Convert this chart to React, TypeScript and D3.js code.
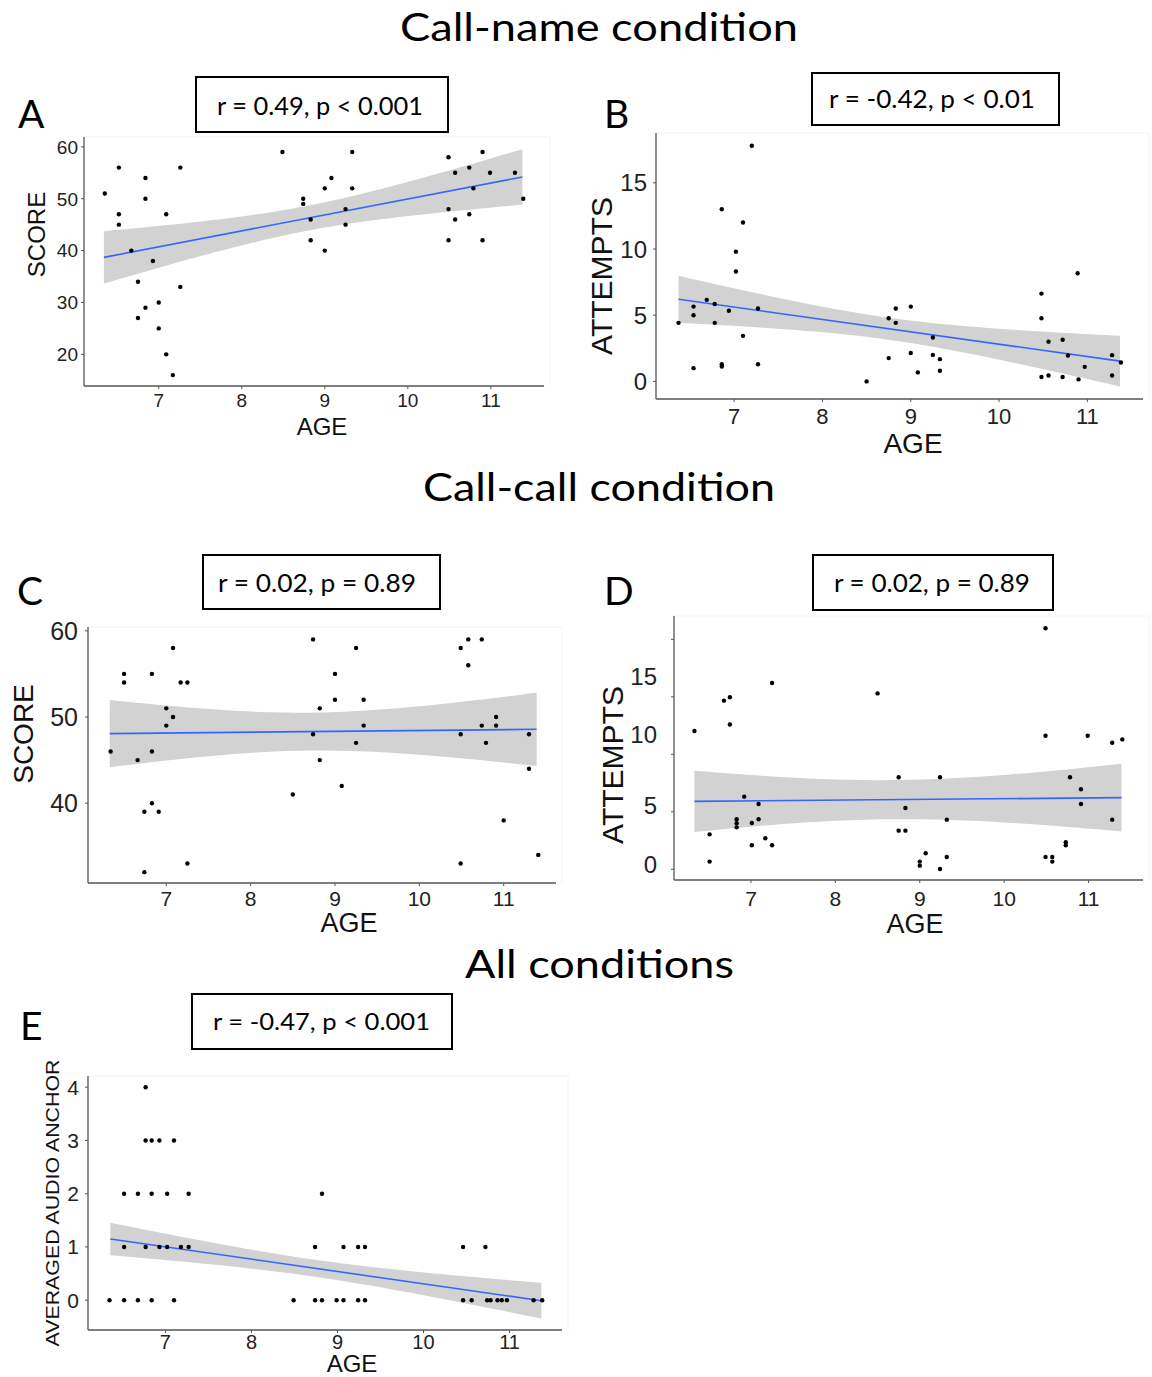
import React from "react";
import * as d3 from "d3";

// ---------- DATA ----------
const ageA = [6.35,6.52,6.52,6.52,6.67,6.75,6.75,6.84,6.84,6.84,6.93,7.0,7.0,7.09,7.09,7.17,7.26,7.26,8.49,8.74,8.74,8.83,8.83,9.0,9.0,9.08,9.25,9.25,9.33,9.33,10.49,10.49,10.49,10.57,10.57,10.74,10.74,10.79,10.9,10.9,10.99,11.29,11.39];
const scoreA = [51,56,47,45,40,34,27,54,50,29,38,30,25,47,20,16,56,33,59,50,49,46,42,52,40,54,48,45,59,52,58,48,42,55,46,56,47,52,59,42,55,55,50];

const ageB = [6.37,6.54,6.54,6.54,6.69,6.78,6.78,6.86,6.86,6.86,6.94,7.02,7.02,7.10,7.10,7.20,7.27,7.27,8.5,8.75,8.75,8.83,8.83,9.0,9.0,9.08,9.25,9.25,9.33,9.33,10.48,10.48,10.48,10.56,10.56,10.72,10.72,10.78,10.89,10.90,10.97,11.28,11.28,11.38];
const attemptsB = [4.42,5.65,5.0,1.0,6.16,5.85,4.42,13.0,1.3,1.13,5.33,9.8,8.3,12.0,3.44,17.8,5.5,1.3,0,4.77,1.76,5.5,4.42,5.65,2.14,0.68,3.32,2.0,1.68,0.8,6.63,4.77,0.33,3.0,0.45,3.14,0.33,1.96,8.17,0.15,1.1,1.98,0.45,1.43];

const ageC = [6.34,6.50,6.50,6.66,6.74,6.74,6.83,6.83,6.83,6.91,7.0,7.0,7.08,7.08,7.17,7.25,7.25,8.5,8.74,8.74,8.82,8.82,9.0,9.0,9.08,9.25,9.25,9.34,9.34,10.49,10.49,10.49,10.58,10.58,10.74,10.74,10.79,10.91,10.91,11.0,11.30,11.30,11.41];
const scoreC = [46,55,54,45,39,32,55,46,40,39,51,49,58,50,54,54,33,41,59,48,51,45,55,52,42,58,47,52,49,58,48,33,59,56,59,49,47,50,49,38,48,44,34];

const ageD = [6.33,6.51,6.51,6.68,6.75,6.75,6.83,6.83,6.83,6.92,7.01,7.01,7.09,7.09,7.17,7.25,7.25,8.50,8.75,8.75,8.83,8.83,9.0,9.0,9.07,9.24,9.24,9.32,9.32,10.49,10.49,10.49,10.57,10.57,10.73,10.73,10.78,10.91,10.91,10.99,11.28,11.28,11.40];
const attemptsD = [12.03,3.04,0.67,14.67,14.96,12.6,4.35,4.0,3.65,6.32,4.03,2.09,5.68,4.35,2.7,16.2,2.09,15.3,8.0,3.36,5.33,3.36,0.67,0.32,1.39,8.0,0.03,4.32,1.07,20.96,11.62,1.07,1.07,0.67,2.35,2.09,8.0,6.96,5.68,11.62,11.01,4.32,11.3];

const ageE = [6.77, 6.77,6.84,6.93,7.10, 6.52,6.68,6.84,7.02,7.27,8.82, 6.52,6.77,6.93,7.02,7.18,7.27,8.74,9.07,9.24,9.32,10.46,10.72, 6.35,6.52,6.68,6.84,7.10,8.49,8.74,8.82,8.99,9.07,9.24,9.32,10.46,10.56,10.74,10.78,10.86,10.91,10.97,11.28,11.38];
const anchorE = [4, 3,3,3,3, 2,2,2,2,2,2, 1,1,1,1,1,1,1,1,1,1,1,1, 0,0,0,0,0,0,0,0,0,0,0,0,0,0,0,0,0,0,0,0,0];

// fitted smooth: x range, y at ends, CI half-width [left, min, right]
const fitA = { x: [6.34, 11.38], y: [38.7, 54.2], hw: [5.05, 2.4, 5.35] };
const fitB = { x: [6.37, 11.37], y: [6.2, 1.53], hw: [1.77, 0.83, 1.91] };
const fitC = { x: [6.33, 11.39], y: [48.07, 48.57], hw: [3.9, 2.2, 4.25] };
const fitD = { x: [6.33, 11.39], y: [5.91, 6.23], hw: [2.67, 1.7, 2.94] };
const fitE = { x: [6.36, 11.37], y: [1.15, -0.01], hw: [0.305, 0.16, 0.335] };

const xTicks = [7, 8, 9, 10, 11];
const yTicksA = [20, 30, 40, 50, 60];
const yTicksB = [0, 5, 10, 15];
const yTicksC = [40, 50, 60];
const yTicksD = [0, 5, 10, 15, 20];
const yLabelsD = ["0", "5", "10", "15"];
const yLabelPosD = [0.4, 5.6, 11.7, 16.8];
const yTicksE = [0, 1, 2, 3, 4];

const statA = "r = 0.49, p < 0.001";
const statB = "r = -0.42, p < 0.01";
const statC = "r = 0.02, p = 0.89";
const statD = "r = 0.02, p = 0.89";
const statE = "r = -0.47, p < 0.001";

const ARIAL = "'Liberation Sans', Arial, sans-serif";
const CAL = "Lato, 'Open Sans', sans-serif";

type Fit = { x: number[]; y: number[]; hw: number[] };

function Panel(p: {
  xs: number[]; ys: number[]; fit: Fit;
  rect: [number, number, number, number]; // l, r, t, b
  xDom: [number, number]; yDom: [number, number];
  yTicks: number[]; yLabels?: string[]; yLabelPos?: number[];
  yFont: number; xFont: number; yGap: number; xBase: number;
  ageFont: number; ageX: number; ageY: number;
  yTitle: string; yTitleFont: number; yTitleX: number; yTitleY: number; yTitleLen?: number;
}) {
  const [l, r, t, b] = p.rect;
  const x = d3.scaleLinear().domain(p.xDom).range([l, r]);
  const y = d3.scaleLinear().domain(p.yDom).range([b, t]);
  const f = p.fit;
  const [h0, hm, h1] = f.hw;
  const ratio = Math.sqrt((h1 * h1 - hm * hm) / (h0 * h0 - hm * hm));
  const d0 = (f.x[1] - f.x[0]) / (1 + ratio);
  const xm = f.x[0] + d0;
  const k = (h0 * h0 - hm * hm) / (d0 * d0);
  const samples = d3.range(0, 61).map((i) => f.x[0] + ((f.x[1] - f.x[0]) * i) / 60);
  const lineY = (v: number) => f.y[0] + ((f.y[1] - f.y[0]) * (v - f.x[0])) / (f.x[1] - f.x[0]);
  const hw = (v: number) => Math.sqrt(hm * hm + k * (v - xm) * (v - xm));
  const area = d3.area<number>().x((v) => x(v)).y0((v) => y(lineY(v) - hw(v))).y1((v) => y(lineY(v) + hw(v)))(samples) || "";
  const line = d3.line<number>().x((v) => x(v)).y((v) => y(lineY(v)))(f.x) || "";
  const labels = p.yLabels ?? p.yTicks.map(String);
  const labelPos = p.yLabelPos ?? p.yTicks;
  const axisCol = "#555";
  return (
    <g>
      <path d={`M${l},${t}H${r + 6}V${b}`} fill="none" stroke="#f3f3f3" strokeWidth={1} />
      <path d={area} fill="#d2d2d2" />
      <path d={line} stroke="#3366ff" strokeWidth={1.6} fill="none" />
      {p.xs.map((v, i) => (
        <circle key={i} cx={x(v)} cy={y(p.ys[i])} r={2.2} fill="#000" />
      ))}
      <line x1={l} x2={r} y1={b} y2={b} stroke={axisCol} strokeWidth={1.3} />
      <line x1={l} x2={l} y1={t} y2={b} stroke={axisCol} strokeWidth={1.3} />
      {xTicks.map((v) => (
        <g key={v}>
          <line x1={x(v)} x2={x(v)} y1={b} y2={b + 3} stroke={axisCol} strokeWidth={1} />
          <text x={x(v)} y={p.xBase} fontSize={p.xFont} fontFamily={ARIAL} textAnchor="middle" fill="#222">{v}</text>
        </g>
      ))}
      {p.yTicks.map((v) => (
        <line key={v} x1={l - 3} x2={l} y1={y(v)} y2={y(v)} stroke={axisCol} strokeWidth={1} />
      ))}
      {labels.map((s, i) => (
        <text key={s} x={l - p.yGap} y={y(labelPos[i])} dy="0.36em" fontSize={p.yFont} fontFamily={ARIAL} textAnchor="end" fill="#222">{s}</text>
      ))}
      <text x={p.ageX} y={p.ageY} fontSize={p.ageFont} fontFamily={ARIAL} textAnchor="middle" fill="#111">AGE</text>
      <text
        transform={`translate(${p.yTitleX + p.yTitleFont * 0.36},${p.yTitleY}) rotate(-90)`}
        fontSize={p.yTitleFont} fontFamily={ARIAL} textAnchor="middle" fill="#111"
        textLength={p.yTitleLen} lengthAdjust={p.yTitleLen ? "spacingAndGlyphs" : undefined}
      >{p.yTitle}</text>
    </g>
  );
}

function StatBox(p: { x0: number; x1: number; y0: number; y1: number; text: string; tx0: number; tx1: number; base: number; size: number }) {
  return (
    <g>
      <rect x={p.x0} y={p.y0} width={p.x1 - p.x0} height={p.y1 - p.y0} fill="#fff" stroke="#000" strokeWidth={2} />
      <text x={p.tx0} y={p.base} fontSize={p.size} fontFamily={CAL} textLength={p.tx1 - p.tx0} lengthAdjust="spacingAndGlyphs" fill="#000">{p.text}</text>
    </g>
  );
}

function Title(p: { text: string; x0: number; x1: number; base: number }) {
  return (
    <text x={p.x0} y={p.base} fontSize={38} fontFamily={CAL} textLength={p.x1 - p.x0} lengthAdjust="spacingAndGlyphs" fill="#000">{p.text}</text>
  );
}

function Letter(p: { t: string; x: number; base: number }) {
  return <text x={p.x} y={p.base} fontSize={39} fontFamily={CAL} fill="#000">{p.t}</text>;
}

export default function App() {
  return (
    <svg width={1152} height={1377} style={{ position: "absolute", left: 0, top: 0, background: "#fff" }}>
      <rect x={0} y={0} width={1152} height={1377} fill="#fff" />
      <Title text="Call-name condition" x0={400} x1={798} base={41} />
      <Title text="Call-call condition" x0={423} x1={775} base={501} />
      <Title text="All conditions" x0={465} x1={734} base={978} />

      <Letter t="A" x={18} base={128} />
      <Letter t="B" x={604} base={128} />
      <Letter t="C" x={17} base={605} />
      <Letter t="D" x={604} base={605} />
      <Letter t="E" x={20} base={1040} />

      <StatBox x0={196} x1={448} y0={77} y1={132} text={statA} tx0={217} tx1={423} base={115} size={25} />
      <StatBox x0={812} x1={1059} y0={73} y1={125} text={statB} tx0={829} tx1={1035} base={108} size={25} />
      <StatBox x0={203} x1={440} y0={555} y1={609} text={statC} tx0={218} tx1={416} base={592} size={25} />
      <StatBox x0={813} x1={1053} y0={555} y1={610} text={statD} tx0={834} tx1={1030} base={592} size={25} />
      <StatBox x0={192} x1={452} y0={994} y1={1049} text={statE} tx0={213} tx1={430} base={1030} size={24} />

      <Panel xs={ageA} ys={scoreA} fit={fitA} rect={[84, 544, 137, 386]} xDom={[6.10, 11.64]} yDom={[13.9, 61.9]}
        yTicks={yTicksA} yFont={19} xFont={19} yGap={6} xBase={407} ageFont={24} ageX={322} ageY={435}
        yTitle="SCORE" yTitleFont={24} yTitleX={36} yTitleY={234.5} />
      <Panel xs={ageB} ys={attemptsB} fit={fitB} rect={[656, 1143, 133, 399]} xDom={[6.115, 11.63]} yDom={[-1.33, 18.76]}
        yTicks={yTicksB} yFont={24} xFont={22} yGap={9} xBase={424} ageFont={28} ageX={913} ageY={453}
        yTitle="ATTEMPTS" yTitleFont={30} yTitleX={601} yTitleY={276} />
      <Panel xs={ageC} ys={scoreC} fit={fitC} rect={[88, 556, 627, 883]} xDom={[6.072, 11.62]} yDom={[30.74, 60.44]}
        yTicks={yTicksC} yFont={25} xFont={21} yGap={10} xBase={906} ageFont={27} ageX={349} ageY={932}
        yTitle="SCORE" yTitleFont={28} yTitleX={23} yTitleY={734} />
      <Panel xs={ageD} ys={attemptsD} fit={fitD} rect={[674, 1143, 616, 880]} xDom={[6.088, 11.645]} yDom={[-0.93, 22.03]}
        yTicks={yTicksD} yLabels={yLabelsD} yLabelPos={yLabelPosD} yFont={24} xFont={21} yGap={17} xBase={906} ageFont={27} ageX={915} ageY={933}
        yTitle="ATTEMPTS" yTitleFont={30} yTitleX={612} yTitleY={765} />
      <Panel xs={ageE} ys={anchorE} fit={fitE} rect={[88, 562, 1076, 1330]} xDom={[6.10, 11.61]} yDom={[-0.56, 4.21]}
        yTicks={yTicksE} yFont={21} xFont={20} yGap={9} xBase={1349} ageFont={24} ageX={352} ageY={1372}
        yTitle="AVERAGED AUDIO ANCHOR" yTitleFont={19} yTitleX={52} yTitleY={1203} yTitleLen={287} />
    </svg>
  );
}
